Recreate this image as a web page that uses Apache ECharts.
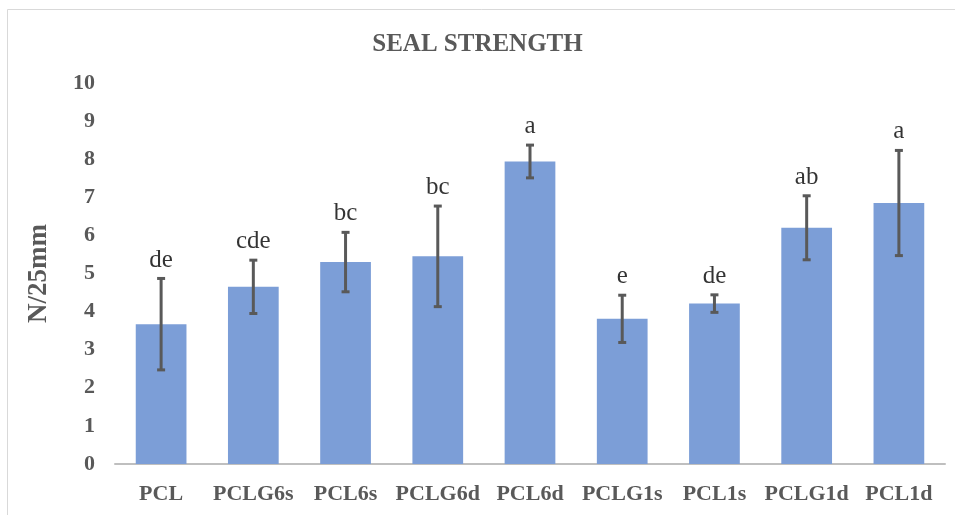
<!DOCTYPE html>
<html>
<head>
<meta charset="utf-8">
<script src="https://cdn.jsdelivr.net/npm/echarts@6/dist/echarts.min.js"></script>
<style>
  html, body { margin: 0; padding: 0; background: #fff; }
  #chart { width: 955px; height: 515px; }
</style>
</head>
<body>
<div id="chart"></div>
<script>
// Seal strength per film formulation (N/25mm), mean ± SD with significance letters
const categories = ['PCL', 'PCLG6s', 'PCL6s', 'PCLG6d', 'PCL6d', 'PCLG1s', 'PCL1s', 'PCLG1d', 'PCL1d'];
const means      = [3.67, 4.65, 5.30, 5.45, 7.94, 3.81, 4.21, 6.20, 6.85];
const errors     = [1.20, 0.70, 0.78, 1.32, 0.43, 0.62, 0.23, 0.84, 1.38];
const letters    = ['de', 'cde', 'bc', 'bc', 'a', 'e', 'de', 'ab', 'a'];
const yTicks     = { min: 0, max: 10, interval: 1 };

const serif = '"Liberation Serif", "Times New Roman", serif';
const grey = '#595959';

const errData = categories.map((c, i) => [i, means[i] - errors[i], means[i] + errors[i]]);
const letterData = categories.map((c, i) => ({ value: [i, means[i] + errors[i]], letter: letters[i] }));

const chart = echarts.init(document.getElementById('chart'));
chart.setOption({
  animation: false,
  backgroundColor: '#fff',
  title: {
    text: 'SEAL STRENGTH',
    left: 'center',
    top: 27,
    textStyle: { fontFamily: serif, fontWeight: 'bold', fontSize: 25, color: grey }
  },
  graphic: [{
    type: 'rect',
    shape: { x: 7.5, y: 9.5, width: 960, height: 520 },
    style: { fill: 'none', stroke: '#D9D9D9', lineWidth: 1 },
    silent: true
  }],
  grid: { left: 115, right: 10, top: 83, bottom: 51 },
  xAxis: {
    type: 'category',
    data: categories,
    axisLine: { lineStyle: { color: '#BFBFBF', width: 2 } },
    axisTick: { show: false },
    axisLabel: { interval: 0, fontFamily: serif, fontWeight: 'bold', fontSize: 22, color: grey, margin: 19 }
  },
  yAxis: {
    type: 'value',
    min: yTicks.min,
    max: yTicks.max,
    interval: yTicks.interval,
    name: 'N/25mm',
    nameLocation: 'middle',
    nameGap: 62,
    nameRotate: 90,
    nameTextStyle: { fontFamily: serif, fontWeight: 'bold', fontSize: 27, color: grey },
    axisLine: { show: false },
    axisTick: { show: false },
    splitLine: { show: false },
    axisLabel: { fontFamily: serif, fontWeight: 'bold', fontSize: 22, color: grey, margin: 20 }
  },
  series: [
    {
      type: 'bar',
      data: means,
      barWidth: '55%',
      itemStyle: { color: '#7C9ED7' }
    },
    {
      // error bars: vertical stem with short caps
      type: 'custom',
      data: errData,
      z: 10,
      renderItem: function (params, api) {
        const x = api.value(0);
        const lo = api.coord([x, api.value(1)]);
        const hi = api.coord([x, api.value(2)]);
        const cap = 4;
        const line = { stroke: '#595959', lineWidth: 3 };
        return {
          type: 'group',
          children: [
            { type: 'line', shape: { x1: hi[0], y1: hi[1], x2: lo[0], y2: lo[1] }, style: line },
            { type: 'line', shape: { x1: hi[0] - cap, y1: hi[1], x2: hi[0] + cap, y2: hi[1] }, style: line },
            { type: 'line', shape: { x1: lo[0] - cap, y1: lo[1], x2: lo[0] + cap, y2: lo[1] }, style: line }
          ]
        };
      }
    },
    {
      // significance letters above each error bar
      type: 'scatter',
      data: letterData,
      symbolSize: 0,
      z: 11,
      label: {
        show: true,
        position: 'top',
        distance: 6,
        formatter: p => p.data.letter,
        fontFamily: serif,
        fontSize: 25,
        color: '#000'
      }
    }
  ]
});
</script>
</body>
</html>
